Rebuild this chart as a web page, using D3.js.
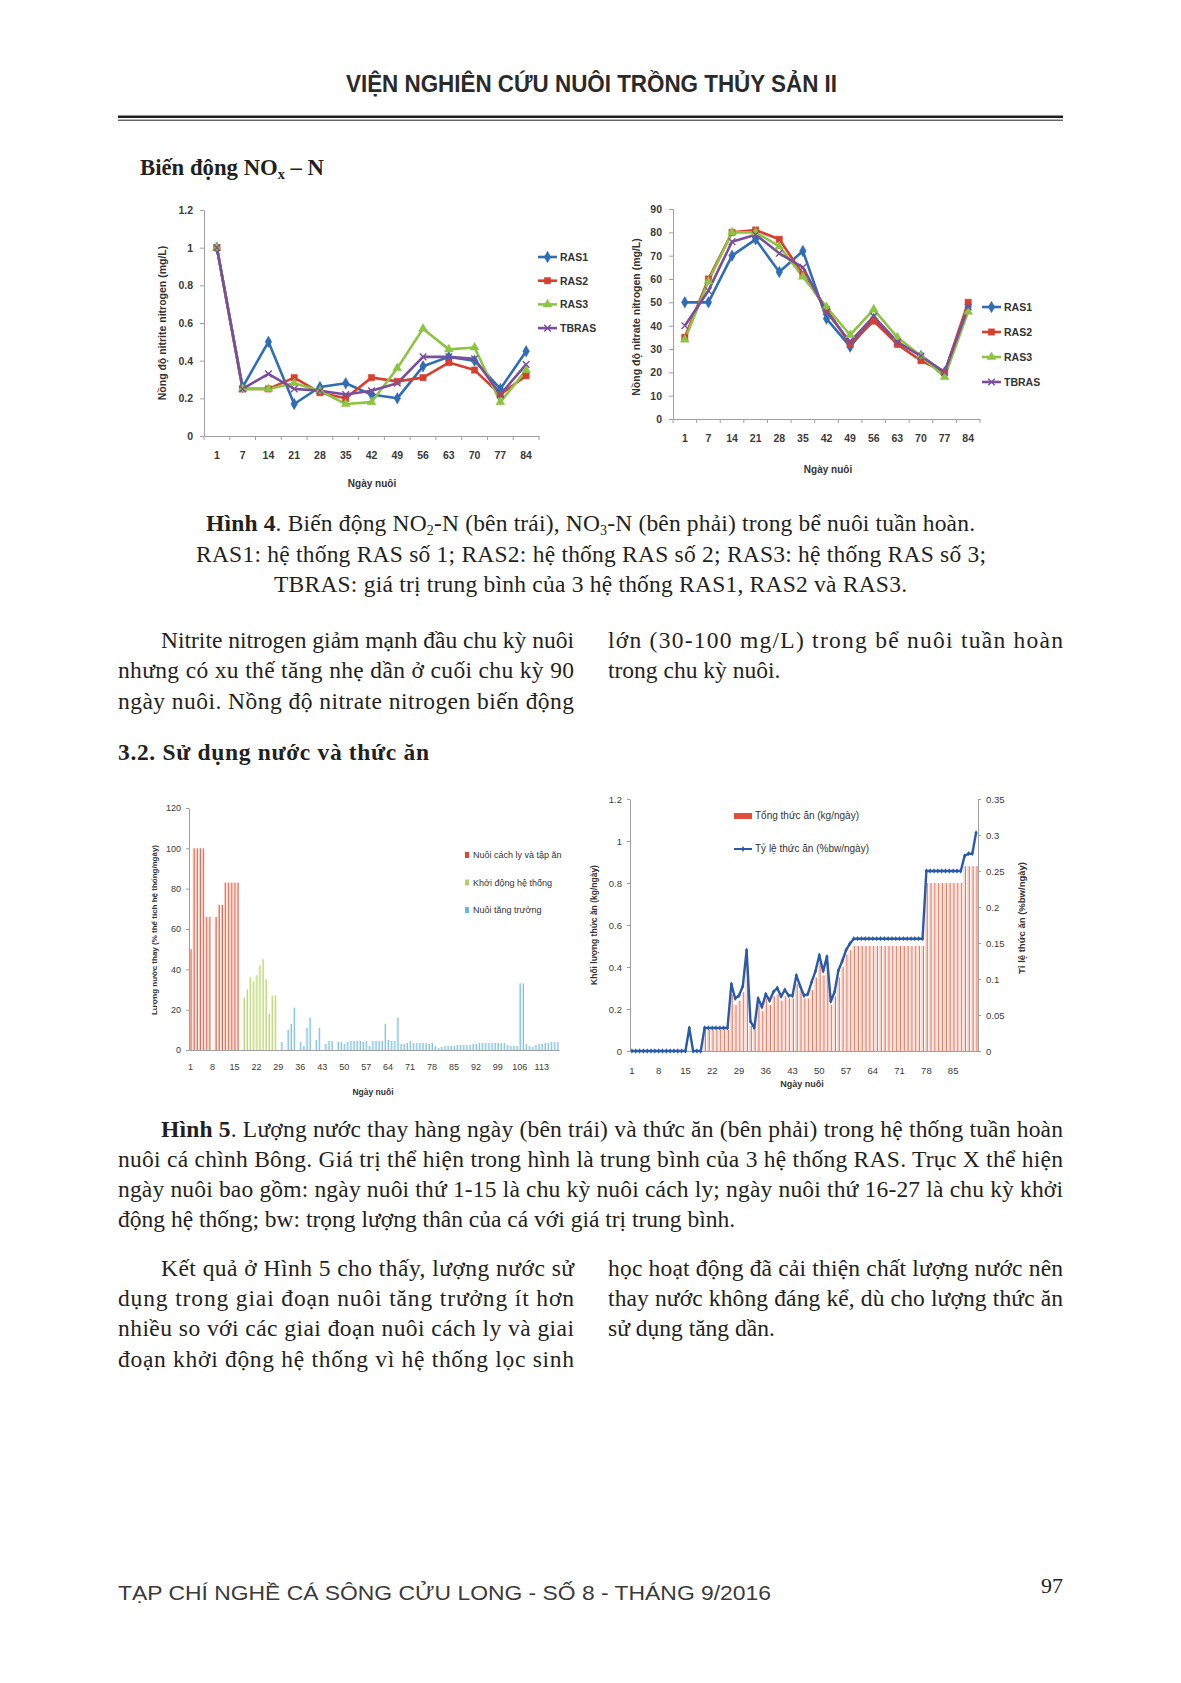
<!DOCTYPE html>
<html>
<head>
<meta charset="utf-8">
<script src="https://d3js.org/d3.v7.min.js"></script>
<style>
  body { margin: 0; background: #fff; }
  svg text { font-family: "Liberation Serif", "Times New Roman", serif; fill: #231f20; }
  .ax text { font-family: "Liberation Sans", Arial, sans-serif; fill: #3a3a3a; }
  .ax path, .ax line { stroke: #a0a0a0; }
  .lab { font-family: "Liberation Sans", Arial, sans-serif !important; font-weight: bold; fill: #333 !important; }
  .narrow { font-family: "Liberation Sans Narrow", "Liberation Sans", Arial, sans-serif !important; }
</style>
</head>
<body>
<div id="page"></div>
<script>
// ---- Hình 4: NO2-N and NO3-N ----
var noDays = ["1", "7", "14", "21", "28", "35", "42", "49", "56", "63", "70", "77", "84"];
var seriesNames = ["RAS1", "RAS2", "RAS3", "TBRAS"];

var no2Ras1 = [1, 0.26, 0.50, 0.17, 0.26, 0.28, 0.22, 0.20, 0.37, 0.42, 0.40, 0.25, 0.45];
var no2Ras2 = [1, 0.25, 0.25, 0.31, 0.23, 0.20, 0.31, 0.29, 0.31, 0.39, 0.35, 0.22, 0.32];
var no2Ras3 = [1, 0.25, 0.25, 0.28, 0.24, 0.17, 0.18, 0.36, 0.57, 0.46, 0.47, 0.18, 0.35];
var no2Tbras = [1, 0.25, 0.33, 0.25, 0.24, 0.22, 0.24, 0.28, 0.42, 0.42, 0.41, 0.22, 0.38];
var no2Ticks = [0, 0.2, 0.4, 0.6, 0.8, 1, 1.2];

var no3Ras1 = [50, 50, 70, 77, 63, 72, 43, 31, 43, 33, 27, 20, 48];
var no3Ras2 = [35, 60, 80, 81, 77, 62, 47, 32, 42, 32, 25, 20, 50];
var no3Ras3 = [34, 59, 80, 80, 74, 61, 48, 36, 47, 35, 27, 18, 46];
var no3Tbras = [40, 55, 76, 79, 71, 65, 46, 33, 44, 33, 27, 20, 48];
var no3Ticks = [0, 10, 20, 30, 40, 50, 60, 70, 80, 90];

// ---- Hình 5 left: water exchange (% system volume / day) ----
var waterIsoStart = 1;   // Nuôi cách ly và tập ăn
var waterIso = [50, 100, 100, 100, 100, 66, 66, 0, 66, 72, 72, 83, 83, 83, 83, 83];
var waterStartStart = 18; // Khởi động hệ thống
var waterStart = [26, 30, 36, 34, 37, 42, 45, 35, 18, 27, 27];
var waterGrowStart = 29;  // Nuôi tăng trưởng
var waterGrow = [
  0, 4, 0, 10, 13, 21, 0, 4, 2, 11,
  16, 0, 5, 11, 0, 3, 4.5, 4.5, 0, 4,
  4, 3, 4, 4.5, 4.5, 4.5, 4.5, 4, 4.5, 2,
  4.5, 4.5, 4.5, 4.5, 13, 5, 4.5, 4.5, 16, 3,
  3, 3.5, 4.5, 3.5, 3.5, 3.5, 3.5, 3.5, 3, 3.5,
  2, 1, 1.5, 2, 2, 2, 2, 2.5, 2.5, 2.5,
  2.5, 2.5, 3, 3, 3.5, 3.5, 3.5, 3.5, 3.5, 3.5,
  3.5, 3.5, 3.5, 2.5, 2, 2, 2, 33, 33, 3,
  2, 1.5, 2.5, 3, 3, 3.5, 3.5, 4, 4, 4
];
var waterDayCount = 118;
var waterTicks = [0, 20, 40, 60, 80, 100, 120];
var waterLabels = ["Nuôi cách ly và tập ăn", "Khởi động hệ thống", "Nuôi tăng trưởng"];

// ---- Hình 5 right: feed (kg/day) and feeding rate (%bw/day) ----
var feedDayCount = 91;
var feedKg = [
  0, 0, 0, 0, 0, 0, 0, 0, 0, 0,
  0, 0, 0, 0, 0, 0, 0, 0, 0, 0.10,
  0.10, 0.10, 0.10, 0.10, 0.10, 0.10, 0.27, 0.22, 0.24, 0.28,
  0.40, 0.12, 0.10, 0.22, 0.19, 0.25, 0.22, 0.26, 0.27, 0.24,
  0.26, 0.25, 0.25, 0.32, 0.29, 0.25, 0.25, 0.29, 0.35, 0.42,
  0.36, 0.42, 0.22, 0.26, 0.35, 0.40, 0.46, 0.48, 0.50, 0.50,
  0.50, 0.50, 0.50, 0.50, 0.50, 0.50, 0.50, 0.50, 0.50, 0.50,
  0.50, 0.50, 0.50, 0.50, 0.50, 0.50, 0.50, 0.80, 0.80, 0.80,
  0.80, 0.80, 0.80, 0.80, 0.80, 0.80, 0.80, 0.88, 0.88, 0.88,
  0.88
];
var feedRate = [
  0, 0, 0, 0, 0, 0, 0, 0, 0, 0,
  0, 0, 0, 0, 0, 0.032, 0, 0, 0, 0.032,
  0.032, 0.032, 0.032, 0.032, 0.032, 0.032, 0.093, 0.073, 0.077, 0.09,
  0.14, 0.041, 0.032, 0.073, 0.061, 0.079, 0.07, 0.082, 0.0875, 0.076,
  0.085, 0.077, 0.077, 0.105, 0.09, 0.077, 0.079, 0.096, 0.111, 0.133,
  0.111, 0.131, 0.069, 0.082, 0.112, 0.125, 0.14, 0.149, 0.156, 0.156,
  0.156, 0.156, 0.156, 0.156, 0.156, 0.156, 0.156, 0.156, 0.156, 0.156,
  0.156, 0.156, 0.156, 0.156, 0.156, 0.156, 0.156, 0.25, 0.25, 0.25,
  0.25, 0.25, 0.25, 0.25, 0.25, 0.25, 0.25, 0.271, 0.274, 0.274,
  0.303
];
var feedKgTicks = [0, 0.2, 0.4, 0.6, 0.8, 1, 1.2];
var feedRateTicks = [0, 0.05, 0.1, 0.15, 0.2, 0.25, 0.3, 0.35];

var svg = d3.select("#page").append("svg")
  .attr("width", 1181)
  .attr("height", 1683);

var BODY = 23.5;

// one line of body text; parts = [text, style] with style "b" or "sub"
function textLine(x, y, width, parts, size) {
  var t = svg.append("text")
    .attr("x", x)
    .attr("y", y)
    .style("font-size", (size || BODY) + "px");
  if (width) t.attr("textLength", width).attr("lengthAdjust", "spacing");
  parts.forEach(function(p) {
    var s = t.append("tspan").text(p[0]);
    if (p[1] === "b") s.style("font-weight", "bold");
    if (p[1] === "sub") s.style("font-size", "14px").attr("baseline-shift", "-4");
  });
  return t;
}

// header
svg.append("text")
  .attr("x", 346).attr("y", 92)
  .attr("textLength", 491).attr("lengthAdjust", "spacingAndGlyphs")
  .attr("class", "narrow")
  .style("font-size", "24px").style("font-weight", "bold").style("fill", "#2a2a2a")
  .text("VIỆN NGHIÊN CỨU NUÔI TRỒNG THỦY SẢN II");
svg.append("line").attr("x1", 118).attr("x2", 1063).attr("y1", 116.8).attr("y2", 116.8)
  .attr("stroke", "#222").attr("stroke-width", 2.6);
svg.append("line").attr("x1", 118).attr("x2", 1063).attr("y1", 120.2).attr("y2", 120.2)
  .attr("stroke", "#222").attr("stroke-width", 1);

// section label
var nox = svg.append("text").attr("x", 140).attr("y", 175)
  .attr("textLength", 184).attr("lengthAdjust", "spacingAndGlyphs")
  .style("font-size", "22.5px").style("font-weight", "bold");
nox.append("tspan").text("Biến động NO");
nox.append("tspan").text("x").style("font-size", "14px").attr("baseline-shift", "-4");
nox.append("tspan").text(" – N");

// ---------- line charts (Hình 4) ----------
var palette = ["#2f6db5", "#d7402f", "#8dc442", "#7a4e9c"];
var shapes = [d3.symbolDiamond, d3.symbolSquare, d3.symbolTriangle, d3.symbolTimes || d3.symbolX];
var shapeSizes = [38, 40, 34, 30];

function lineChart(c) {
  var g = svg.append("g");
  var x = d3.scaleBand().domain(noDays).range([c.left, c.right]);
  var y = d3.scaleLinear().domain([0, c.max]).range([c.bottom, c.top]);
  var half = x.bandwidth() / 2;

  g.append("g").attr("class", "ax")
    .attr("transform", "translate(" + c.left + ",0)")
    .call(d3.axisLeft(y).tickValues(c.ticks).tickFormat(String).tickSize(4).tickSizeOuter(0).tickPadding(7))
    .selectAll("text").style("font-size", "10.5px").style("font-weight", "bold");

  var xa = g.append("g").attr("class", "ax")
    .attr("transform", "translate(0," + c.bottom + ")")
    .call(d3.axisBottom(x).tickSize(0).tickSizeOuter(0).tickPadding(16));
  xa.selectAll("text").style("font-size", "10.5px").style("font-weight", "bold");
  xa.selectAll(".bt").data(d3.range(noDays.length + 1)).enter().append("line")
    .attr("x1", function(i) { return c.left + i * x.step(); })
    .attr("x2", function(i) { return c.left + i * x.step(); })
    .attr("y1", 0).attr("y2", 4);

  var line = d3.line()
    .x(function(d, i) { return x(noDays[i]) + half; })
    .y(function(d) { return y(d); });

  c.series.forEach(function(vals, k) {
    g.append("path").datum(vals)
      .attr("d", line).attr("fill", "none")
      .attr("stroke", palette[k]).attr("stroke-width", 2.6)
      .attr("stroke-linejoin", "round");
  });
  c.series.forEach(function(vals, k) {
    var sym = d3.symbol().type(shapes[k]).size(shapeSizes[k]);
    g.selectAll(".m" + k).data(vals).enter().append("path")
      .attr("transform", function(d, i) { return "translate(" + (x(noDays[i]) + half) + "," + y(d) + ")"; })
      .attr("d", sym)
      .attr("fill", k === 3 ? "none" : palette[k])
      .attr("stroke", palette[k])
      .attr("stroke-width", k === 3 ? 1.4 : 0.5);
  });

  // legend
  seriesNames.forEach(function(name, k) {
    var ly = c.legY + k * c.legGap;
    g.append("line").attr("x1", c.legX).attr("x2", c.legX + 19).attr("y1", ly).attr("y2", ly)
      .attr("stroke", palette[k]).attr("stroke-width", 2.6);
    g.append("path").attr("transform", "translate(" + (c.legX + 9.5) + "," + ly + ")")
      .attr("d", d3.symbol().type(shapes[k]).size(shapeSizes[k]))
      .attr("fill", k === 3 ? "none" : palette[k]).attr("stroke", palette[k])
      .attr("stroke-width", k === 3 ? 1.4 : 0.5);
    g.append("text").attr("class", "lab narrow").attr("x", c.legX + 22).attr("y", ly + 3.8)
      .style("font-size", "10.5px").text(name);
  });

  g.append("text").attr("class", "lab")
    .attr("transform", "translate(" + c.titleX + "," + c.titleY + ") rotate(-90)")
    .attr("text-anchor", "middle").style("font-size", "10.5px").text(c.yTitle);
  g.append("text").attr("class", "lab")
    .attr("x", c.xTitleX).attr("y", c.xTitleY)
    .attr("text-anchor", "middle").style("font-size", "10px").text("Ngày nuôi");
}

lineChart({
  left: 204, right: 539, top: 210, bottom: 436, max: 1.2, ticks: no2Ticks,
  series: [no2Ras1, no2Ras2, no2Ras3, no2Tbras],
  legX: 538, legY: 257, legGap: 23.7,
  titleX: 166, titleY: 323, yTitle: "Nồng độ nitrite nitrogen (mg/L)",
  xTitleX: 372, xTitleY: 487
});
lineChart({
  left: 673, right: 980, top: 209, bottom: 419, max: 90, ticks: no3Ticks,
  series: [no3Ras1, no3Ras2, no3Ras3, no3Tbras],
  legX: 982, legY: 307, legGap: 25,
  titleX: 640, titleY: 317, yTitle: "Nồng độ nitrate nitrogen (mg/L)",
  xTitleX: 828, xTitleY: 473
});

// ---------- caption Hình 4 ----------
textLine(206, 531, 769, [["Hình 4", "b"], [". Biến động NO"], ["2", "sub"], ["-N (bên trái), NO"], ["3", "sub"], ["-N (bên phải) trong bể nuôi tuần hoàn."]]);
textLine(196, 562, 790, [["RAS1: hệ thống RAS số 1; RAS2: hệ thống RAS số 2; RAS3: hệ thống RAS số 3;"]]);
textLine(274, 592, 633, [["TBRAS: giá trị trung bình của 3 hệ thống RAS1, RAS2 và RAS3."]]);

textLine(161, 648, 413, [["Nitrite nitrogen giảm mạnh đầu chu kỳ nuôi"]]);
textLine(118, 678, 456, [["nhưng có xu thế tăng nhẹ dần ở cuối chu kỳ 90"]]);
textLine(118, 709, 456, [["ngày nuôi. Nồng độ nitrate nitrogen biến động"]]);
textLine(608, 648, 455, [["lớn (30-100 mg/L) trong bể nuôi tuần hoàn"]]);
textLine(608, 678, null, [["trong chu kỳ nuôi."]]);

textLine(118, 760, 311, [["3.2. Sử dụng nước và thức ăn", "b"]]);

// ---------- Hình 5 left: water bars ----------
(function() {
  var g = svg.append("g");
  var left = 189, right = 559, top = 808, bottom = 1050;
  var days = d3.range(1, waterDayCount + 1);
  var x = d3.scaleBand().domain(days).range([left, right]);
  var y = d3.scaleLinear().domain([0, 120]).range([bottom, top]);
  var bw = x.bandwidth();

  var phases = [
    { start: waterIsoStart, vals: waterIso, fill: "#f9ccbf", edge: "#e8452f" },
    { start: waterStartStart, vals: waterStart, fill: "#e6efc2", edge: "#b3cf6a" },
    { start: waterGrowStart, vals: waterGrow, fill: "#d3e9f5", edge: "#6ab7df" }
  ];
  phases.forEach(function(p) {
    var data = p.vals.map(function(v, i) { return { day: p.start + i, v: v }; })
      .filter(function(d) { return d.v > 0; });
    g.selectAll(null).data(data).enter().append("rect")
      .attr("x", function(d) { return x(d.day) + 0.5; })
      .attr("width", bw - 1.2)
      .attr("y", function(d) { return y(d.v); })
      .attr("height", function(d) { return bottom - y(d.v); })
      .attr("fill", p.fill);
    g.selectAll(null).data(data).enter().append("line")
      .attr("x1", function(d) { return x(d.day) + bw - 1; })
      .attr("x2", function(d) { return x(d.day) + bw - 1; })
      .attr("y1", function(d) { return y(d.v); })
      .attr("y2", bottom)
      .attr("stroke", p.edge).attr("stroke-width", 0.8);
  });

  g.append("g").attr("class", "ax")
    .attr("transform", "translate(" + left + ",0)")
    .call(d3.axisLeft(y).tickValues(waterTicks).tickSize(3).tickSizeOuter(0).tickPadding(5))
    .selectAll("text").style("font-size", "9px");
  g.append("g").attr("class", "ax")
    .attr("transform", "translate(0," + bottom + ")")
    .call(d3.axisBottom(x).tickValues(days.filter(function(d) { return (d - 1) % 7 === 0; }))
      .tickSize(0).tickSizeOuter(0).tickPadding(14))
    .selectAll("text").style("font-size", "9px");

  g.append("text").attr("class", "lab")
    .attr("transform", "translate(157,930) rotate(-90)")
    .attr("text-anchor", "middle").style("font-size", "8px")
    .text("Lượng nước thay (% thể tích hệ thống/ngày)");
  g.append("text").attr("class", "lab narrow").attr("x", 373).attr("y", 1095)
    .attr("text-anchor", "middle").style("font-size", "8.5px").text("Ngày nuôi");

  waterLabels.forEach(function(name, k) {
    var ly = 855 + k * 27.5;
    g.append("rect").attr("x", 465).attr("y", ly - 3).attr("width", 4).attr("height", 6)
      .attr("fill", phases[k].edge);
    g.append("text").attr("class", "narrow").attr("x", 473).attr("y", ly + 3)
      .style("font-size", "9px").style("fill", "#333").text(name);
  });
})();

// ---------- Hình 5 right: feed bars + rate line ----------
(function() {
  var g = svg.append("g");
  var left = 630, right = 978, top = 799, bottom = 1051;
  var days = d3.range(1, feedDayCount + 1);
  var x = d3.scaleBand().domain(days).range([left, right]);
  var yKg = d3.scaleLinear().domain([0, 1.2]).range([bottom, top]);
  var yRate = d3.scaleLinear().domain([0, 0.35]).range([bottom, top]);
  var bw = x.bandwidth();

  var bars = days.map(function(d, i) { return { day: d, v: feedKg[i] }; })
    .filter(function(d) { return d.v > 0; });
  g.selectAll(null).data(bars).enter().append("rect")
    .attr("x", function(d) { return x(d.day) + 0.5; })
    .attr("width", bw - 1.2)
    .attr("y", function(d) { return yKg(d.v); })
    .attr("height", function(d) { return bottom - yKg(d.v); })
    .attr("fill", "#fbdcd2");
  g.selectAll(null).data(bars).enter().append("line")
    .attr("x1", function(d) { return x(d.day) + bw - 1; })
    .attr("x2", function(d) { return x(d.day) + bw - 1; })
    .attr("y1", function(d) { return yKg(d.v); })
    .attr("y2", bottom)
    .attr("stroke", "#e4553f").attr("stroke-width", 0.8);

  g.append("g").attr("class", "ax")
    .attr("transform", "translate(" + left + ",0)")
    .call(d3.axisLeft(yKg).tickValues(feedKgTicks).tickFormat(String).tickSize(3).tickSizeOuter(0).tickPadding(5))
    .selectAll("text").style("font-size", "9.5px");
  g.append("g").attr("class", "ax")
    .attr("transform", "translate(" + right + ",0)")
    .call(d3.axisRight(yRate).tickValues(feedRateTicks).tickFormat(String).tickSize(3).tickSizeOuter(0).tickPadding(5))
    .selectAll("text").style("font-size", "9.5px");
  g.append("g").attr("class", "ax")
    .attr("transform", "translate(0," + bottom + ")")
    .call(d3.axisBottom(x).tickValues(days.filter(function(d) { return (d - 1) % 7 === 0 && d < 90; }))
      .tickSize(0).tickSizeOuter(0).tickPadding(16))
    .selectAll("text").style("font-size", "9.5px");

  var line = d3.line()
    .x(function(d, i) { return x(days[i]) + bw / 2; })
    .y(function(d) { return yRate(d); });
  g.append("path").datum(feedRate).attr("d", line)
    .attr("fill", "none").attr("stroke", "#2a5ba8").attr("stroke-width", 2.4)
    .attr("stroke-linejoin", "round");
  g.selectAll(".fm").data(feedRate).enter().append("path")
    .attr("transform", function(d, i) { return "translate(" + (x(days[i]) + bw / 2) + "," + yRate(d) + ")"; })
    .attr("d", d3.symbol().type(d3.symbolDiamond).size(8))
    .attr("fill", "#2a5ba8");

  g.append("text").attr("class", "lab")
    .attr("transform", "translate(597,925) rotate(-90)")
    .attr("text-anchor", "middle").style("font-size", "8.5px")
    .text("Khối lượng thức ăn (kg/ngày)");
  g.append("text").attr("class", "lab")
    .attr("transform", "translate(1025,918) rotate(-90)")
    .attr("text-anchor", "middle").style("font-size", "9.5px")
    .text("Tỉ lệ thức ăn (%bw/ngày)");
  g.append("text").attr("class", "lab narrow").attr("x", 802).attr("y", 1087)
    .attr("text-anchor", "middle").style("font-size", "9px").text("Ngày nuôi");

  // legend
  g.append("rect").attr("x", 734).attr("y", 813).attr("width", 18).attr("height", 6).attr("fill", "#e0503a");
  g.append("text").attr("class", "narrow").attr("x", 755).attr("y", 819)
    .style("font-size", "10px").style("fill", "#333").text("Tổng thức ăn (kg/ngày)");
  g.append("line").attr("x1", 734).attr("x2", 752).attr("y1", 849).attr("y2", 849)
    .attr("stroke", "#2a5ba8").attr("stroke-width", 2);
  g.append("path").attr("transform", "translate(743,849)")
    .attr("d", d3.symbol().type(d3.symbolDiamond).size(10)).attr("fill", "#2a5ba8");
  g.append("text").attr("class", "narrow").attr("x", 755).attr("y", 852)
    .style("font-size", "10px").style("fill", "#333").text("Tỷ lệ thức ăn (%bw/ngày)");
})();

// ---------- caption Hình 5 and paragraph ----------
textLine(161, 1137, 902, [["Hình 5", "b"], [". Lượng nước thay hàng ngày (bên trái) và thức ăn (bên phải) trong hệ thống tuần hoàn"]]);
textLine(118, 1167, 945, [["nuôi cá chình Bông. Giá trị thể hiện trong hình là trung bình của 3 hệ thống RAS. Trục X thể hiện"]]);
textLine(118, 1197, 945, [["ngày nuôi bao gồm: ngày nuôi thứ 1-15 là chu kỳ nuôi cách ly; ngày nuôi thứ 16-27 là chu kỳ khởi"]]);
textLine(118, 1227, null, [["động hệ thống; bw: trọng lượng thân của cá với giá trị trung bình."]]);

textLine(161, 1276, 413, [["Kết quả ở Hình 5 cho thấy, lượng nước sử"]]);
textLine(118, 1306, 456, [["dụng trong giai đoạn nuôi tăng trưởng ít hơn"]]);
textLine(118, 1336, 456, [["nhiều so với các giai đoạn nuôi cách ly và giai"]]);
textLine(118, 1367, 456, [["đoạn khởi động hệ thống vì hệ thống lọc sinh"]]);
textLine(608, 1276, 455, [["học hoạt động đã cải thiện chất lượng nước nên"]]);
textLine(608, 1306, 455, [["thay nước không đáng kể, dù cho lượng thức ăn"]]);
textLine(608, 1336, null, [["sử dụng tăng dần."]]);

// footer
svg.append("text").attr("x", 118).attr("y", 1600)
  .attr("textLength", 653).attr("lengthAdjust", "spacingAndGlyphs")
  .style("font-family", "'Liberation Sans', Arial, sans-serif")
  .style("font-size", "21px").style("fill", "#3a3a3a")
  .text("TẠP CHÍ NGHỀ CÁ SÔNG CỬU LONG - SỐ 8 - THÁNG 9/2016");
svg.append("text").attr("x", 1063).attr("y", 1593).attr("text-anchor", "end")
  .style("font-size", "22px").text("97");
</script>
</body>
</html>
